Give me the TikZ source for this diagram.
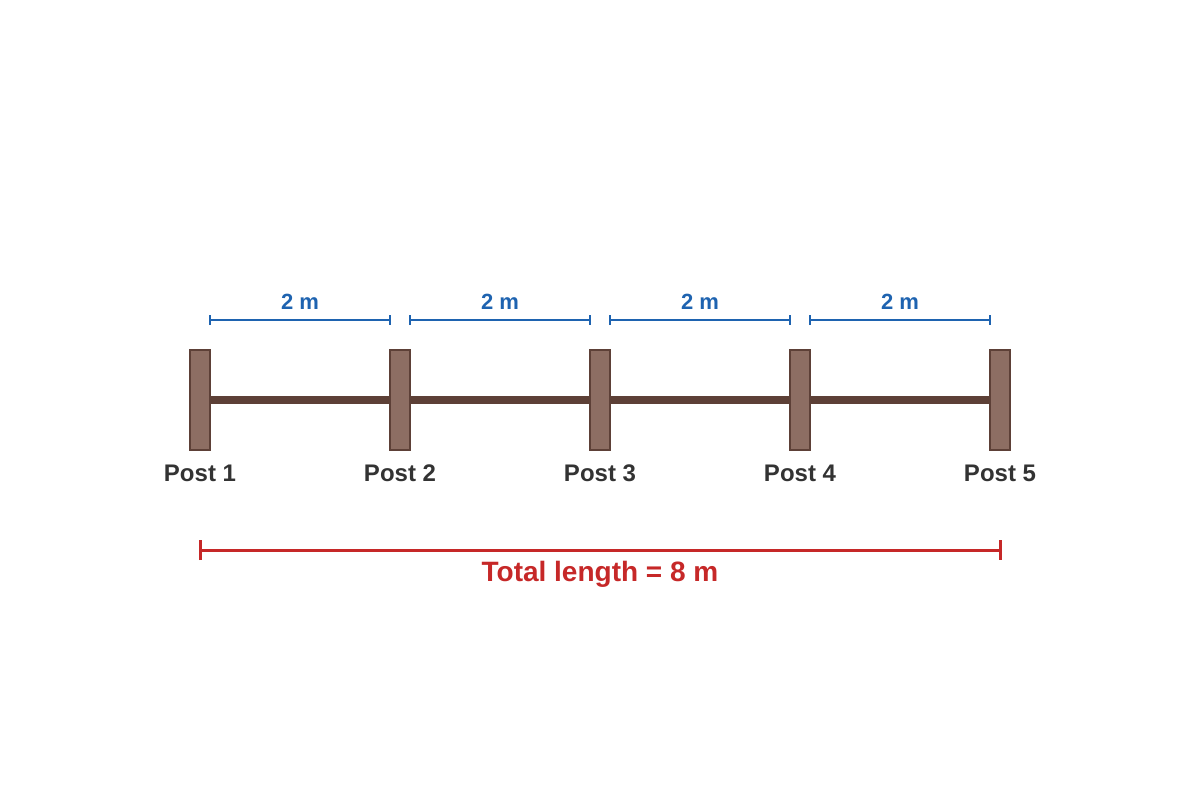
\documentclass[tikz,border=0pt]{standalone}
\usepackage{fontspec}
\setmainfont{Liberation Sans}
\usetikzlibrary{positioning, arrows.meta}
\definecolor{postfill}{HTML}{8D6E63}
\definecolor{postdraw}{HTML}{5D4037}
\definecolor{dimblue}{HTML}{1E63B0}
\definecolor{totalred}{HTML}{C62828}
\definecolor{labelgray}{HTML}{333333}
\tikzset{post/.style = {draw=postdraw, fill=postfill, line width=1pt, minimum width=10pt, minimum height=50pt, inner sep=0pt, outer sep=0pt}}
\tikzset{rail/.style = {draw=postdraw, line width=3.75pt}}
\tikzset{dim/.style = {draw=dimblue, line width=1pt, {Bar[width=5pt]}-{Bar[width=5pt]}, shorten <=-0.5pt, shorten >=-0.5pt}}
\tikzset{total/.style = {draw=totalred, line width=1.5pt, {Bar[width=10pt]}-{Bar[width=10pt]}, shorten <=-0.75pt, shorten >=-0.75pt}}
\tikzset{postlabel/.style = {text=labelgray, inner sep=0pt, text height=8.6pt, text depth=0pt, font=\fontsize{12}{14}\selectfont\bfseries}}
\tikzset{dimlabel/.style = {text=dimblue, inner sep=0pt, above=5pt, font=\fontsize{11}{13}\selectfont\bfseries}}
\tikzset{totallabel/.style = {text=totalred, inner sep=0pt, below=5pt, font=\fontsize{14}{16}\selectfont\bfseries}}

\begin{document}
\begin{tikzpicture}[x=0.5pt, y=-0.5pt, node distance=90pt]
  \useasboundingbox (0,0) rectangle (1200,800);

  \node [post] (p1) at (200,400) {};
  \node [post, right=of p1] (p2) {};
  \node [post, right=of p2] (p3) {};
  \node [post, right=of p3] (p4) {};
  \node [post, right=of p4] (p5) {};

  \node [postlabel, below=7pt of p1] (l1) {Post 1};
  \node [postlabel, below=7pt of p2] (l2) {Post 2};
  \node [postlabel, below=7pt of p3] (l3) {Post 3};
  \node [postlabel, below=7pt of p4] (l4) {Post 4};
  \node [postlabel, below=7pt of p5] (l5) {Post 5};

  \draw [rail] (p1) -- (p2);
  \draw [rail] (p2) -- (p3);
  \draw [rail] (p3) -- (p4);
  \draw [rail] (p4) -- (p5);

  % spacing between posts
  \foreach \a/\b in {1/2, 2/3, 3/4, 4/5} {
    \coordinate (d\a s) at (p\a.east |- 0,320);
    \coordinate (d\a e) at (p\b.west |- 0,320);
    \draw [dim] (d\a s) -- (d\a e) node [midway, dimlabel] {2 m};
  }

  % whole fence
  \coordinate (ts) at (p1 |- 0,550);
  \coordinate (te) at (p5 |- 0,550);
  \draw [total] (ts) -- (te) node [midway, totallabel] {Total length = 8 m};
\end{tikzpicture}
\end{document}
